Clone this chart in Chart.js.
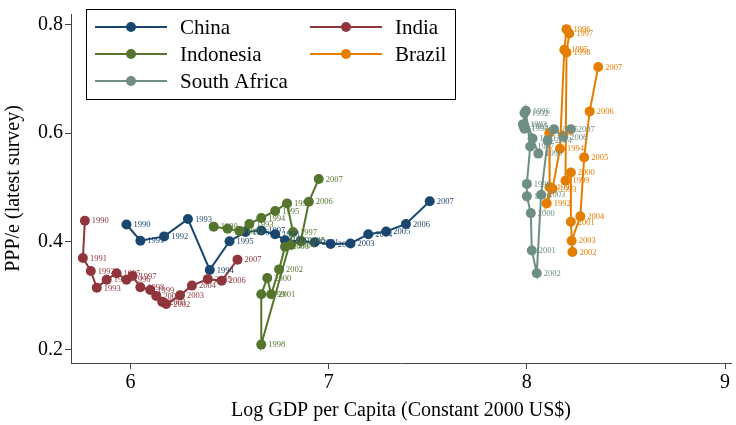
<!DOCTYPE html>
<html>
<head>
<meta charset="utf-8">
<script src="https://cdn.jsdelivr.net/npm/chart.js@4.4.1/dist/chart.umd.min.js"></script>
<style>
  html, body { margin: 0; padding: 0; background: #fff; }
</style>
</head>
<body>
<canvas id="chart" width="736" height="425"></canvas>
<script>
// years shown next to each point
const years = [1990, 1991, 1992, 1993, 1994, 1995, 1996, 1997, 1998, 1999, 2000, 2001, 2002, 2003, 2004, 2005, 2006, 2007]

// log GDP per capita (x) and PPP/e (y)
const chinaX = [5.98, 6.05, 6.17, 6.29, 6.40, 6.50, 6.58, 6.66, 6.73, 6.78, 6.86, 6.93, 7.01, 7.11, 7.20, 7.29, 7.39, 7.51]
const chinaY = [0.431, 0.401, 0.409, 0.441, 0.347, 0.400, 0.417, 0.420, 0.413, 0.402, 0.400, 0.398, 0.395, 0.396, 0.413, 0.418, 0.432, 0.474]

const indiaX = [5.77, 5.76, 5.80, 5.83, 5.88, 5.93, 5.98, 6.01, 6.05, 6.10, 6.13, 6.16, 6.18, 6.25, 6.31, 6.39, 6.46, 6.54]
const indiaY = [0.438, 0.369, 0.345, 0.314, 0.329, 0.341, 0.329, 0.336, 0.315, 0.310, 0.299, 0.288, 0.284, 0.300, 0.318, 0.330, 0.327, 0.366]

const indonesiaX = [6.42, 6.49, 6.55, 6.60, 6.66, 6.73, 6.79, 6.82, 6.66, 6.66, 6.69, 6.71, 6.75, 6.78, 6.81, 6.86, 6.90, 6.95]
const indonesiaY = [0.427, 0.423, 0.419, 0.432, 0.443, 0.456, 0.470, 0.417, 0.209, 0.302, 0.332, 0.302, 0.348, 0.390, 0.393, 0.401, 0.473, 0.515]

const brazilX = [8.113, 8.115, 8.10, 8.13, 8.167, 8.189, 8.20, 8.214, 8.20, 8.195, 8.222, 8.222, 8.23, 8.226, 8.27, 8.289, 8.317, 8.36]
const brazilY = [0.600, 0.500, 0.470, 0.497, 0.571, 0.754, 0.792, 0.784, 0.749, 0.512, 0.527, 0.436, 0.380, 0.401, 0.446, 0.555, 0.640, 0.722]

const southAfricaX = [8.058, 8.029, 7.988, 7.98, 7.988, 7.985, 7.995, 8.017, 8.0, 8.0, 8.02, 8.025, 8.05, 8.072, 8.105, 8.137, 8.184, 8.222]
const southAfricaY = [0.562, 0.590, 0.637, 0.616, 0.608, 0.612, 0.641, 0.575, 0.506, 0.483, 0.452, 0.383, 0.341, 0.486, 0.586, 0.607, 0.593, 0.607]

const xTicks = [6, 7, 8, 9]
const yTicks = [0.2, 0.4, 0.6, 0.8]

const serif = "'Liberation Serif', 'DejaVu Serif', serif"

function pts(xs, ys) {
  return xs.map((x, i) => ({ x: x, y: ys[i] }))
}

function series(label, xs, ys, color, order) {
  return {
    label: label,
    data: pts(xs, ys),
    showLine: true,
    borderColor: color,
    backgroundColor: color,
    borderWidth: 2,
    pointRadius: 5,
    pointHoverRadius: 5,
    pointBorderWidth: 0,
    order: order
  }
}

const datasets = [
  series('China', chinaX, chinaY, '#1a476f', 5),
  series('India', indiaX, indiaY, '#90353b', 4),
  series('Indonesia', indonesiaX, indonesiaY, '#55752f', 3),
  series('Brazil', brazilX, brazilY, '#e37e00', 2),
  series('South Africa', southAfricaX, southAfricaY, '#6e8e84', 1)
]

// year labels to the right of every marker
const yearLabels = {
  id: 'yearLabels',
  afterDatasetsDraw(chart) {
    const ctx = chart.ctx
    ctx.save()
    ctx.font = '8.5px ' + serif
    ctx.textBaseline = 'middle'
    ctx.textAlign = 'left'
    chart.data.datasets.forEach((ds, di) => {
      const meta = chart.getDatasetMeta(di)
      ctx.fillStyle = ds.borderColor
      meta.data.forEach((el, i) => {
        ctx.fillText(String(years[i]), el.x + 7, el.y + 0.5)
      })
    })
    ctx.restore()
  }
}

// boxed legend in the top left corner, two columns
const boxLegend = {
  id: 'boxLegend',
  afterDraw(chart) {
    const ctx = chart.ctx
    const layout = [
      [0, 95, 27], [1, 310, 27],
      [2, 95, 54], [3, 310, 54],
      [4, 95, 81]
    ]
    ctx.save()
    ctx.fillStyle = '#fff'
    ctx.fillRect(86, 9, 369, 90)
    ctx.strokeStyle = '#000'
    ctx.lineWidth = 1
    ctx.strokeRect(86.5, 9.5, 369, 90)
    ctx.font = '21px ' + serif
    ctx.textBaseline = 'middle'
    layout.forEach(([di, x, y]) => {
      const ds = chart.data.datasets[di]
      ctx.strokeStyle = ds.borderColor
      ctx.lineWidth = 2
      ctx.beginPath()
      ctx.moveTo(x, y)
      ctx.lineTo(x + 72, y)
      ctx.stroke()
      ctx.fillStyle = ds.borderColor
      ctx.beginPath()
      ctx.arc(x + 36, y, 5, 0, Math.PI * 2)
      ctx.fill()
      ctx.fillStyle = '#000'
      ctx.fillText(ds.label, x + 85, y + 1)
    })
    ctx.restore()
  }
}

new Chart(document.getElementById('chart'), {
  type: 'scatter',
  data: { datasets: datasets },
  options: {
    responsive: false,
    animation: false,
    layout: { padding: { top: 5, right: 0, left: 0, bottom: 0 } },
    plugins: {
      legend: { display: false },
      tooltip: { enabled: false }
    },
    scales: {
      x: {
        type: 'linear',
        min: 5.7,
        max: 9.03,
        afterBuildTicks: (scale) => { scale.ticks = xTicks.map(v => ({ value: v })) },
        afterFit: (scale) => { scale.height = 62 },
        grid: { drawOnChartArea: false, tickLength: 6, color: '#444' },
        border: { color: '#444', width: 1 },
        ticks: { color: '#000', font: { family: serif, size: 20 }, padding: 2 },
        title: {
          display: true,
          text: 'Log GDP per Capita (Constant 2000 US$)',
          color: '#000',
          font: { family: serif, size: 20 },
          padding: { top: 0, bottom: 2 }
        }
      },
      y: {
        type: 'linear',
        min: 0.175,
        max: 0.82,
        afterBuildTicks: (scale) => { scale.ticks = yTicks.map(v => ({ value: v })) },
        afterFit: (scale) => { scale.width = 71 },
        grid: { drawOnChartArea: false, tickLength: 6, color: '#444' },
        border: { color: '#444', width: 1 },
        ticks: {
          color: '#000',
          font: { family: serif, size: 20 },
          padding: 2,
          callback: (v) => v.toFixed(1)
        },
        title: {
          display: true,
          text: 'PPP/e (latest survey)',
          color: '#000',
          font: { family: serif, size: 20 },
          padding: { top: 2, bottom: 0 }
        }
      }
    }
  },
  plugins: [yearLabels, boxLegend]
})
</script>
</body>
</html>
